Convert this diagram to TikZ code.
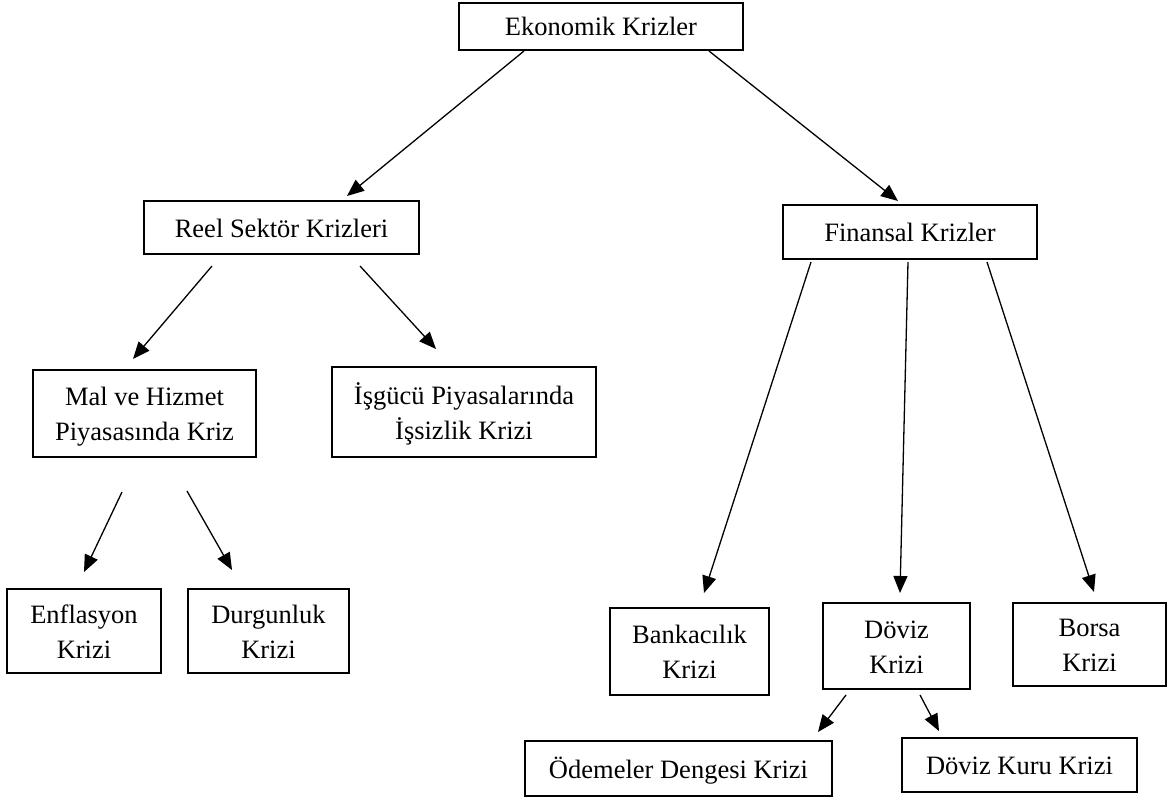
\documentclass[tikz,border=0pt]{standalone}
\usepackage{fontspec}
\setmainfont{Liberation Serif}
\usetikzlibrary{arrows.meta}
\newcommand{\tophold}{\rule{0pt}{25pt}}
\newcommand{\bothold}{\rule[-6pt]{0pt}{6pt}}
\begin{document}
\begin{tikzpicture}[x=1pt,y=-1pt,
  box/.style={draw=black, line width=2.6pt, rectangle, inner sep=0pt, align=center,
    font=\fontsize{26.5}{35}\selectfont, text=black},
  arr/.style={draw=black, line width=1.3pt, -{Triangle[length=17pt,width=14pt]}}]
\useasboundingbox[fill=white] (0,0) rectangle (1171,797);
% nodes
\node[box, minimum width=284pt, minimum height=47pt] (ek) at (601,26.5) {\tophold Ekonomik Krizler\bothold};
\node[box, minimum width=275pt, minimum height=53pt] (reel) at (281.5,227.5) {\tophold Reel Sektör Krizleri\bothold};
\node[box, minimum width=254pt, minimum height=54pt] (fin) at (910,232) {\tophold Finansal Krizler\bothold};
\node[box, minimum width=223pt, minimum height=87pt] (mal) at (144.5,413.5) {\tophold Mal ve Hizmet\\Piyasasında Kriz\bothold};
\node[box, minimum width=264pt, minimum height=90pt] (isg) at (464,412) {\tophold İşgücü Piyasalarında\\İşsizlik Krizi\bothold};
\node[box, minimum width=154pt, minimum height=84pt] (enf) at (84,631) {\tophold Enflasyon\\Krizi\bothold};
\node[box, minimum width=161pt, minimum height=84pt] (dur) at (268.5,631) {\tophold Durgunluk\\Krizi\bothold};
\node[box, minimum width=159pt, minimum height=87pt] (bank) at (689.5,651.5) {\tophold Bankacılık\\Krizi\bothold};
\node[box, minimum width=147pt, minimum height=86pt] (dov) at (896.5,646) {\tophold Döviz\\Krizi\bothold};
\node[box, minimum width=153pt, minimum height=83pt] (bor) at (1089.5,644.5) {\tophold Borsa\\Krizi\bothold};
\node[box, minimum width=307pt, minimum height=55pt] (ode) at (678.5,768.5) {\tophold Ödemeler Dengesi Krizi\bothold};
\node[box, minimum width=235pt, minimum height=54pt] (kur) at (1019.5,765) {\tophold Döviz Kuru Krizi\bothold};
% connector end points
\coordinate (ek-a) at (524,51);   \coordinate (reel-in) at (347,196);
\coordinate (ek-b) at (709,51);   \coordinate (fin-in) at (898,201);
\coordinate (reel-a) at (212,266); \coordinate (mal-in) at (133,359);
\coordinate (reel-b) at (360,266); \coordinate (isg-in) at (436,349);
\coordinate (mal-a) at (122,492); \coordinate (enf-in) at (84,572);
\coordinate (mal-b) at (187,491); \coordinate (dur-in) at (232,570);
\coordinate (fin-a) at (811,262); \coordinate (bank-in) at (704,593);
\coordinate (fin-b) at (908,262); \coordinate (dov-in) at (900,593);
\coordinate (fin-c) at (987,262); \coordinate (bor-in) at (1094,592);
\coordinate (dov-a) at (846,695); \coordinate (ode-in) at (818,732);
\coordinate (dov-b) at (920,695); \coordinate (kur-in) at (939,731);
% connectors
\draw[arr] (ek-a) -- (reel-in);
\draw[arr] (ek-b) -- (fin-in);
\draw[arr] (reel-a) -- (mal-in);
\draw[arr] (reel-b) -- (isg-in);
\draw[arr] (mal-a) -- (enf-in);
\draw[arr] (mal-b) -- (dur-in);
\draw[arr] (fin-a) -- (bank-in);
\draw[arr] (fin-b) -- (dov-in);
\draw[arr] (fin-c) -- (bor-in);
\draw[arr] (dov-a) -- (ode-in);
\draw[arr] (dov-b) -- (kur-in);
\end{tikzpicture}
\end{document}
